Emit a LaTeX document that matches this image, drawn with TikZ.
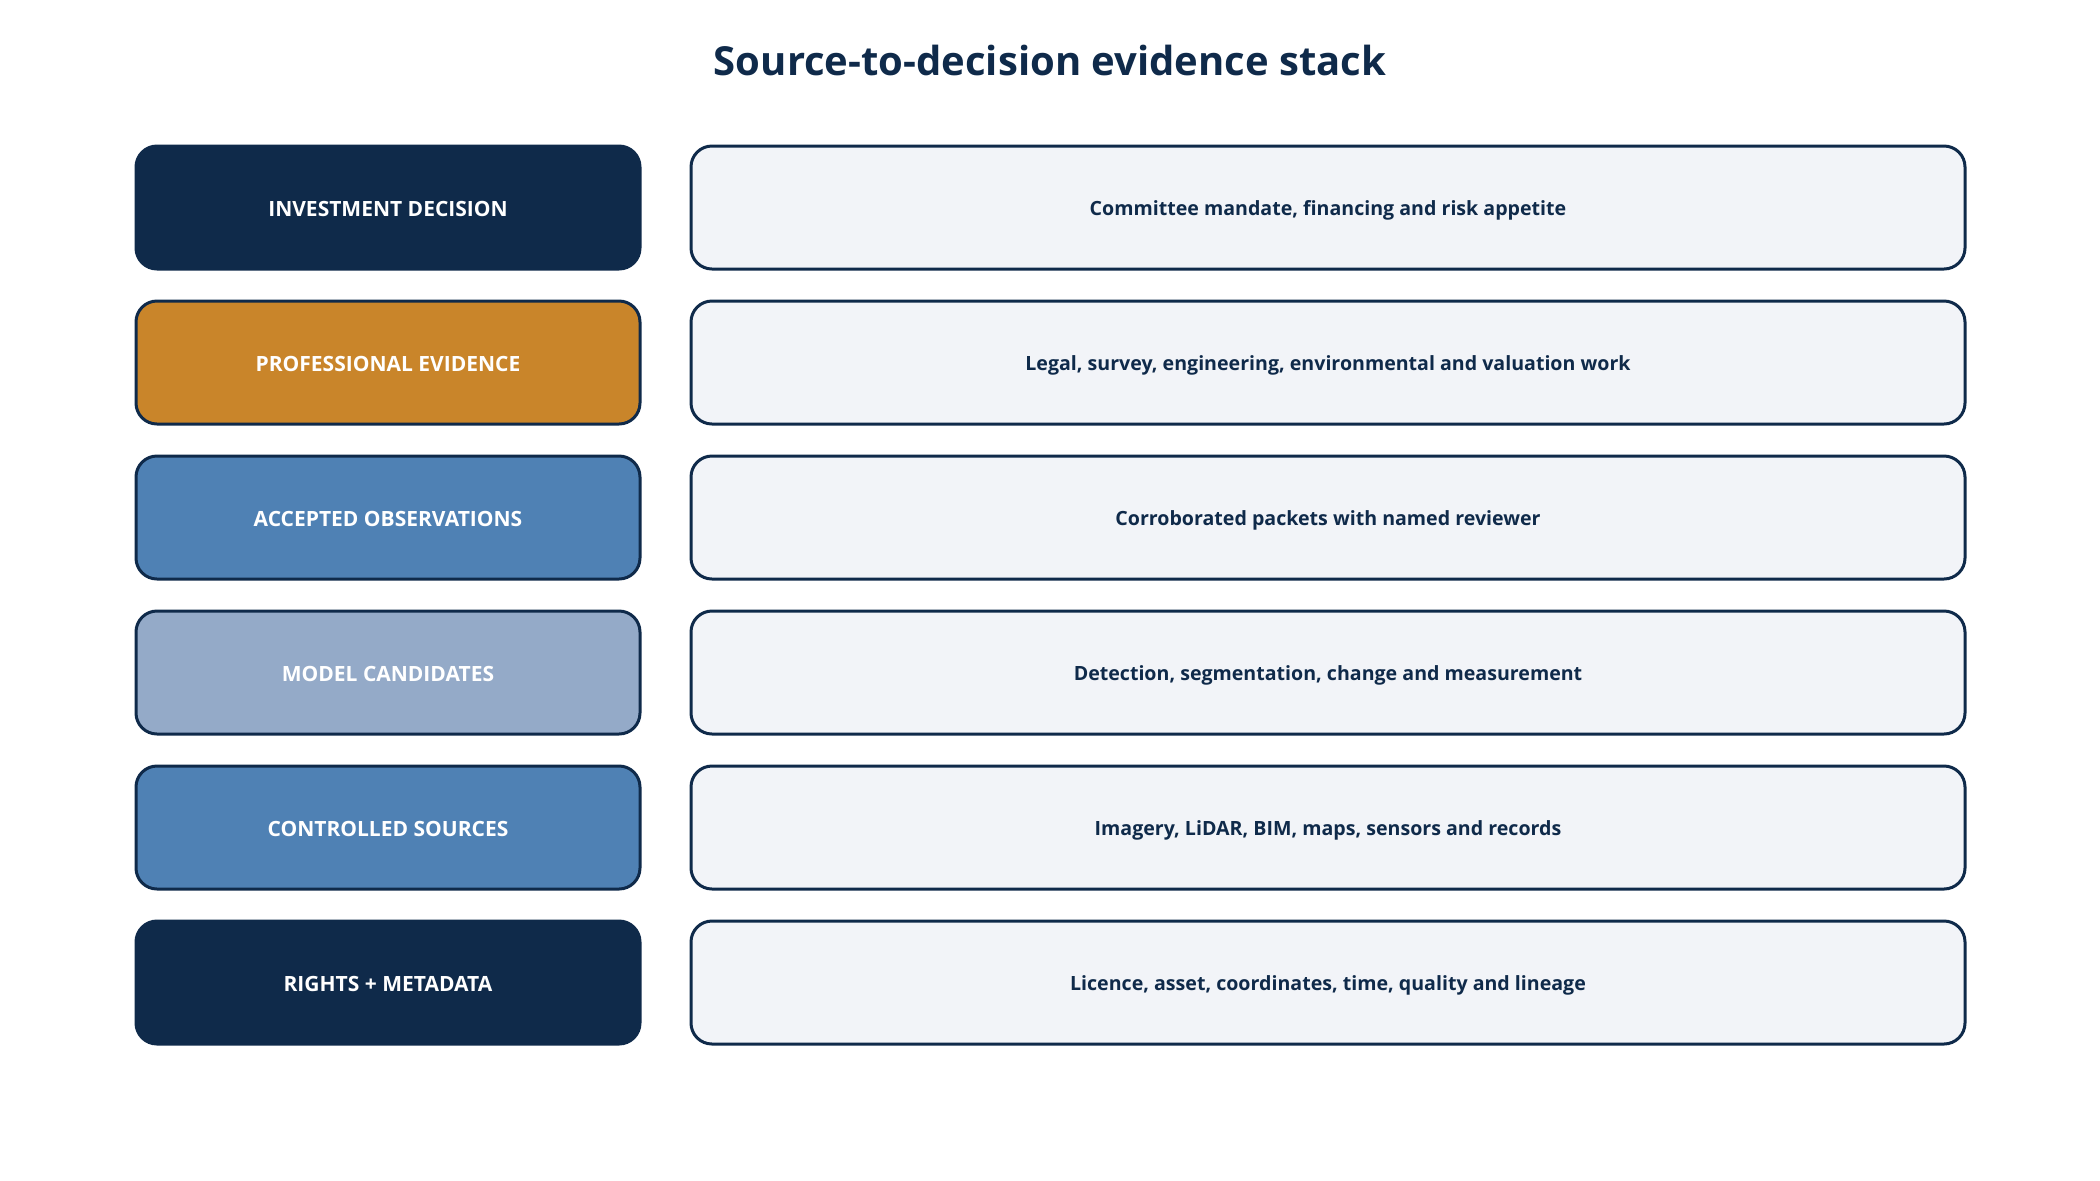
\documentclass[tikz,border=0pt]{standalone}
\usepackage{fontspec}
\setmainfont{Open Sans}
\usetikzlibrary{positioning}
\definecolor{navy}{HTML}{0F2A4A}
\definecolor{ochre}{HTML}{C9852A}
\definecolor{steel}{HTML}{4F81B4}
\definecolor{haze}{HTML}{94AAC8}
\definecolor{paper}{HTML}{F2F4F8}
\tikzset{
  layer/.style={draw=navy, line width=1.5pt, rounded corners=10.5pt, minimum width=252pt, minimum height=61.5pt, text height=8.9pt, text depth=0.4pt, text=white, font=\fontsize{10.5}{12}\selectfont\bfseries},
  note/.style={draw=navy, fill=paper, line width=1.5pt, rounded corners=10.5pt, minimum width=637pt, minimum height=61.5pt, text height=8.7pt, text depth=0.4pt, text=navy, font=\fontsize{9.8}{12}\selectfont\bfseries},
}
\begin{document}
\begin{tikzpicture}[x=0.5pt,y=-0.5pt]
\useasboundingbox (0,0) rectangle (2100,1180);
\node[text=navy, font=\fontsize{20}{24}\selectfont\bfseries] (title) at (1050,60.5) {Source-to-decision evidence stack};
% left column
\node[layer, fill=navy] (decision) at (388,207.5) {INVESTMENT DECISION};
\node[layer, fill=ochre] (professional) at (388,362.5) {PROFESSIONAL EVIDENCE};
\node[layer, fill=steel] (accepted) at (388,517.5) {ACCEPTED OBSERVATIONS};
\node[layer, fill=haze] (candidates) at (388,672.5) {MODEL CANDIDATES};
\node[layer, fill=steel] (sources) at (388,827.5) {CONTROLLED SOURCES};
\node[layer, fill=navy] (rights) at (388,982.5) {RIGHTS + METADATA};
% right column
\node[note] (decisionnote) at (1328,207.5) {Committee mandate, financing and risk appetite};
\node[note] (professionalnote) at (1328,362.5) {Legal, survey, engineering, environmental and valuation work};
\node[note] (acceptednote) at (1328,517.5) {Corroborated packets with named reviewer};
\node[note] (candidatesnote) at (1328,672.5) {Detection, segmentation, change and measurement};
\node[note] (sourcesnote) at (1328,827.5) {Imagery, LiDAR, BIM, maps, sensors and records};
\node[note] (rightsnote) at (1328,982.5) {Licence, asset, coordinates, time, quality and lineage};
\end{tikzpicture}
\end{document}
